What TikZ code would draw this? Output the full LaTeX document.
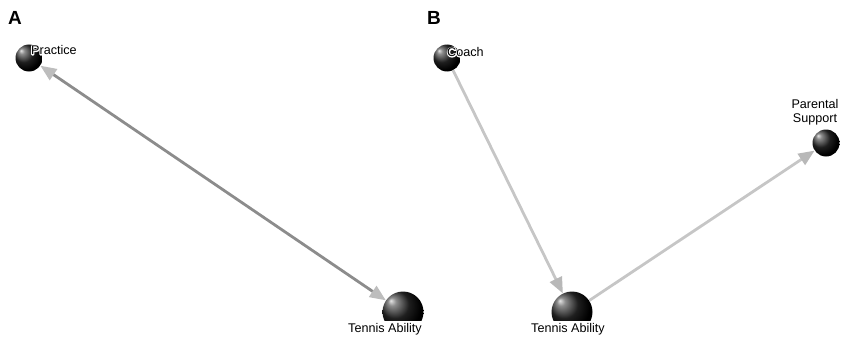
\documentclass[tikz,border=0pt]{standalone}
\usepackage{fontspec}
\setmainfont{Liberation Sans}
\usetikzlibrary{arrows.meta}
\definecolor{lineA}{HTML}{8C8C8C}
\definecolor{headA}{HTML}{BDBDBD}
\definecolor{lineB}{HTML}{C6C6C6}
\definecolor{headB}{HTML}{B8B8B8}
\newcommand\halotext[1]{\special{pdf:code q 1 Tr 2 w 1 j 1 1 1 RG}#1\special{pdf:code Q}}
\pgfdeclareradialshading{myball}{\pgfpoint{-15bp}{14bp}}{color(0bp)=(white!90!black); color(5bp)=(black!45); color(17bp)=(black!88); color(28bp)=(black); color(50bp)=(black)}
\begin{document}
\begin{tikzpicture}[x=1pt,y=-1pt,
  ballsmall/.style={circle,inner sep=0pt,minimum size=27pt,shading=myball},
  ballbig/.style={circle,inner sep=0pt,minimum size=41pt,shading=myball},
  lbl/.style={font=\fontsize{12.6}{14}\selectfont,inner sep=1pt},
  panel/.style={font=\fontsize{19}{20}\selectfont\bfseries}]
\useasboundingbox (0,0) rectangle (842,337);
\node[panel] (la) at (15,18) {A};
\node[panel] (lb) at (434,18) {B};
% panel A
\node[ballsmall] (pr) at (29,58) {};
\node[ballbig] (ta) at (403,312) {};
\draw[lineA,line width=2.8pt,{Triangle[length=16pt,width=13pt,fill=headA,color=headA]}-{Triangle[length=16pt,width=13pt,fill=headA,color=headA]}] (pr) -- (ta);
\node[lbl,anchor=west] (prh) at (30,50) {\halotext{Practice}};
\node[lbl,anchor=west] (prl) at (30,50) {Practice};
\node[lbl,fill=white,inner sep=2pt] (tal) at (385,329) {Tennis Ability};
% panel B
\node[ballsmall] (co) at (447,58) {};
\node[ballbig] (tb) at (572,312) {};
\node[ballsmall] (ps) at (826,143) {};
\draw[lineB,line width=2.8pt,-{Triangle[length=16pt,width=13pt,fill=headB,color=headB]}] (co) -- (tb);
\draw[lineB,line width=2.8pt,-{Triangle[length=16pt,width=13pt,fill=headB,color=headB]}] (tb) -- (ps);
\node[lbl,anchor=west] (coh) at (446,52) {\halotext{Coach}};
\node[lbl,anchor=west] (col) at (446,52) {Coach};
\node[lbl,fill=white,inner sep=2pt] (tbl) at (568,329) {Tennis Ability};
\node[lbl,align=center] (psl) at (815,112) {Parental\\Support};
\end{tikzpicture}
\end{document}
